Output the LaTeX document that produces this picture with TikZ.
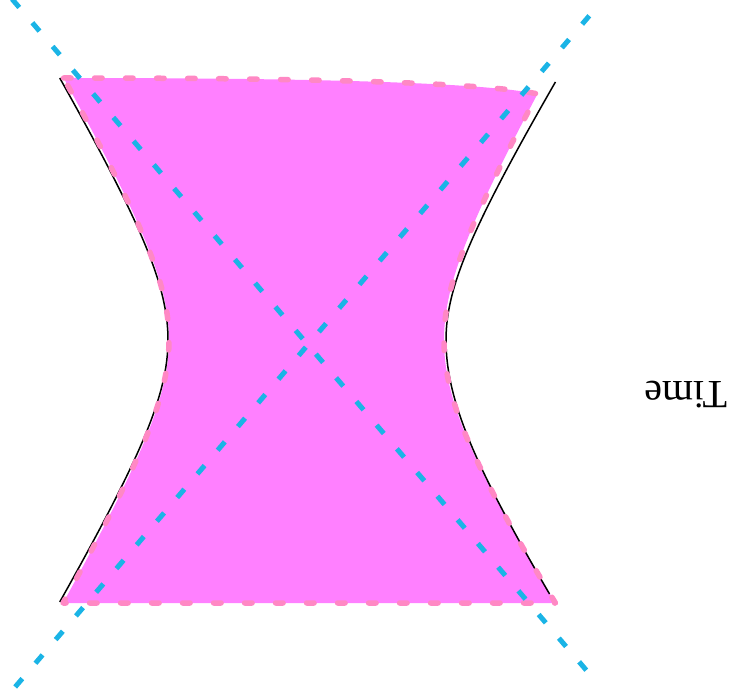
\documentclass[tikz,border=0pt]{standalone}
\usepackage{fontspec}
\newfontfamily\labelfont{Liberation Serif}
\definecolor{fillmag}{RGB}{255,128,255}
\definecolor{pinkdash}{RGB}{255,136,196}
\definecolor{cyanline}{RGB}{26,180,230}
\begin{document}
\begin{tikzpicture}[x=1pt,y=-1pt,
  hypline/.style={black,line width=1.5pt},
  pinkborder/.style={draw=pinkdash,line width=5.5pt,line cap=round,line join=round,dash pattern=on 7.5pt off 23.5pt},
  lightray/.style={draw=cyanline,line width=5pt,dash pattern=on 11pt off 20.15pt}]
\useasboundingbox (0,0) rectangle (733,700);
% filled region
\def\regionpath{(63.6,78) .. controls (300,78) and (480,82) .. (538,94)
  -- plot[domain=94:340,samples=50] ({384+60*sqrt(1+((\x-340)/104.5)^2)},\x)
  -- plot[domain=340:603,samples=50] ({364+80*sqrt(1+((\x-340)/121)^2)},\x)
  -- plot[domain=603:78,samples=90] ({229-60*sqrt(1+((\x-340)/102)^2)},\x)}
\fill[fillmag] \regionpath -- cycle;
% hyperbolas
\draw[hypline] plot[domain=78:602,samples=90] ({228-60*sqrt(1+((\x-340)/100)^2)},\x);
\draw[hypline] plot[domain=82:340,samples=50] ({386+60*sqrt(1+((\x-340)/97.7)^2)},\x)
  -- plot[domain=340:594,samples=50] ({366+80*sqrt(1+((\x-340)/123)^2)},\x);
% dashed border
\draw[pinkborder] \regionpath -- cycle;
% light rays
\coordinate (r1a) at (12.1,-0.9);
\coordinate (r1b) at (586.3,670.2);
\coordinate (r2a) at (589.3,15.8);
\coordinate (r2b) at (14.7,687.5);
\draw[lightray] (r1a) -- (r1b);
\draw[lightray] (r2a) -- (r2b);
% label
\node[rotate=180,anchor=base,font=\labelfont\fontsize{40}{42}\selectfont,inner sep=0pt] (time) at (686,381) {Time};
\end{tikzpicture}
\end{document}
